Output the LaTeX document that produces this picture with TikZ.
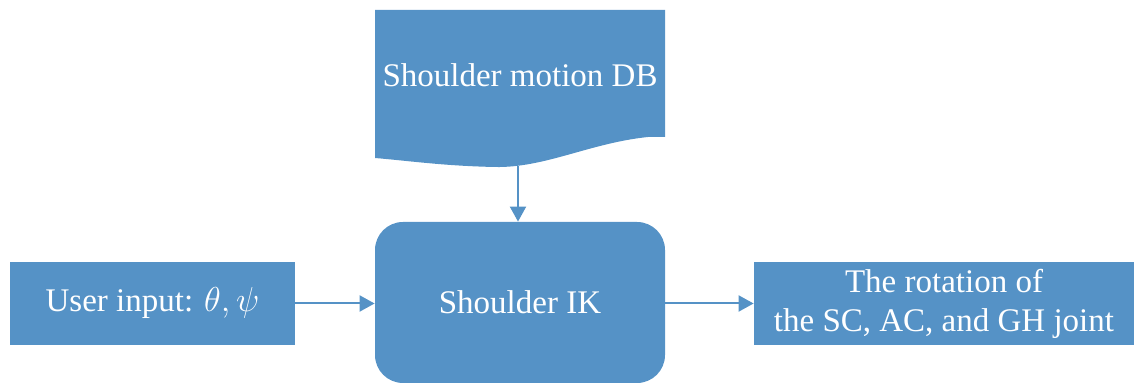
\documentclass[tikz,border=0pt]{standalone}
\usepackage{fontspec}
\setmainfont{Liberation Serif}
\usetikzlibrary{arrows.meta, positioning, calc}
\definecolor{cblue}{HTML}{5592C6}

\begin{document}
\begin{tikzpicture}[
  x=0.5pt, y=0.5pt,
  font=\fontsize{16.5}{19.5}\selectfont,
  >={Triangle[length=7.5pt, width=8pt]},
  box/.style={fill=cblue, draw=none, text=white, align=center, inner sep=0pt},
  inbox/.style={box, minimum width=142.5pt, minimum height=41.5pt},
  outbox/.style={box, minimum width=190pt, minimum height=41.5pt},
  ikbox/.style={box, rounded corners=14pt, minimum width=145pt, minimum height=80.5pt},
  arr/.style={->, line width=1pt, draw=cblue},
  ]
\useasboundingbox (0,0) rectangle (1134,383);
% ---- motion database (document shape)
\fill[cblue] (375,373) -- (665,373) -- (665,246) -- (648,246)
  .. controls (590,240) and (545,215) .. (495,216)
  .. controls (445,217) and (410,222) .. (375,225) -- cycle;
\node[box, fill=none] (db) at (520,308) {Shoulder motion DB};
\coordinate (dbfoot) at (518,217);
% ---- main row
\node[ikbox]  (ik)   at (520,80.5) {Shoulder IK};
\node[inbox]  (user) at (152.5,79.5) {User input: $\theta, \psi$};
\node[outbox] (rot)  at (944,79.5) {The rotation of\\the SC, AC, and GH joint};
% arrows
\draw[arr] (dbfoot) -- (dbfoot |- ik.north);
\draw[arr] (user.east) -- (user.east -| ik.west);
\draw[arr] (user.east -| ik.east) -- (rot.west);
\end{tikzpicture}
\end{document}
